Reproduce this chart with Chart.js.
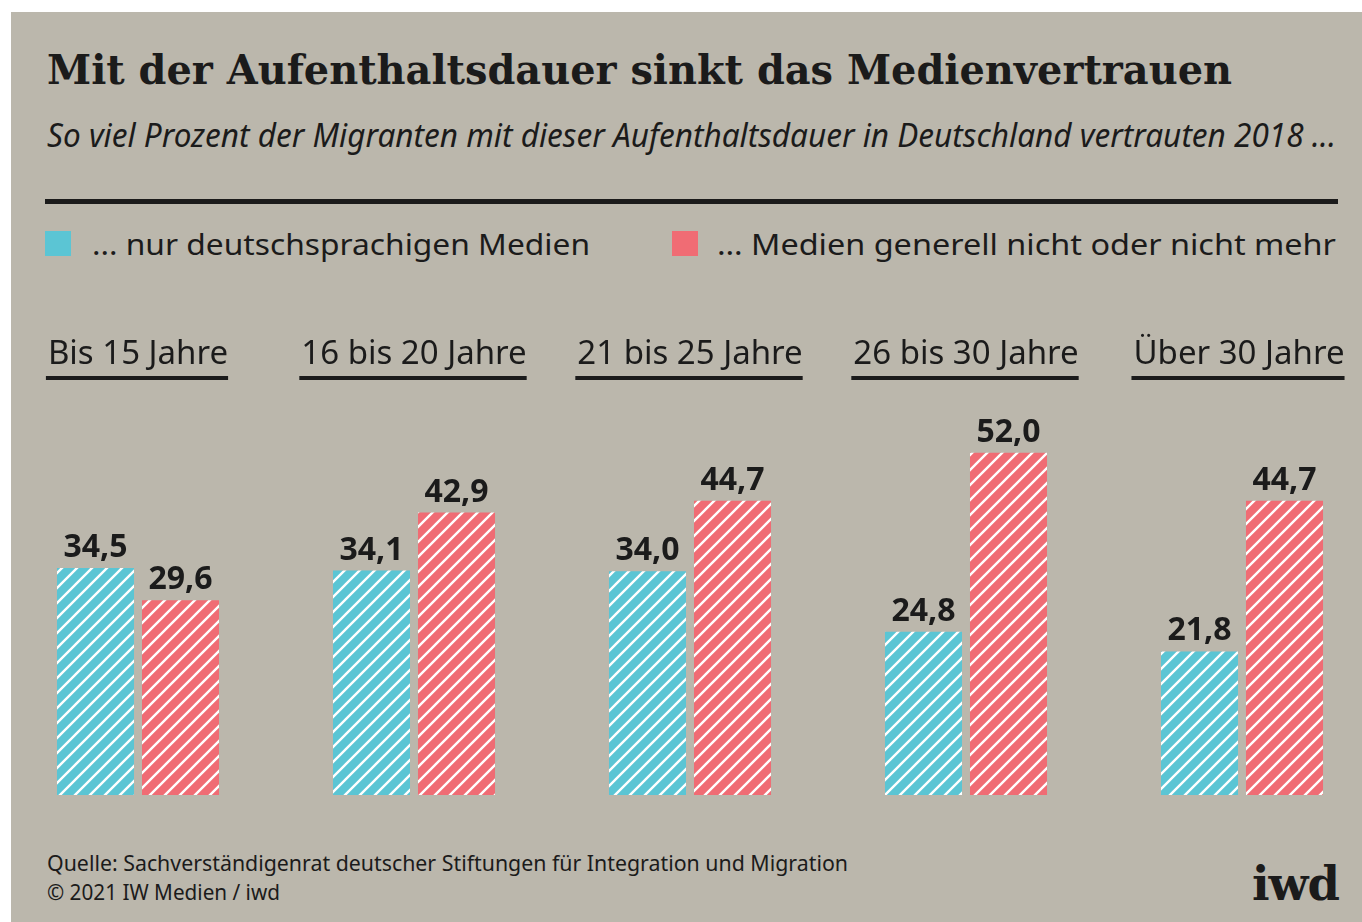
<!DOCTYPE html>
<html lang="de">
<head>
<meta charset="utf-8">
<script src="https://cdn.jsdelivr.net/npm/chart.js@4/dist/chart.umd.min.js"></script>
<style>
  html,body{margin:0;padding:0;background:#fff;width:1362px;height:922px;overflow:hidden;position:relative;}
  #card{position:absolute;left:11px;top:12px;width:1351px;height:910px;background:#bbb7ac;}
  .t{position:absolute;white-space:nowrap;color:#1b1b1b;line-height:1;transform-origin:0 0;display:inline-block;}
  #title{font-family:"DejaVu Serif",serif;font-weight:700;font-size:41px;left:47px;top:50px;}
  #subtitle{font-family:"Noto Sans",sans-serif;font-style:italic;font-size:32px;left:47px;top:119px;}
  #rule{position:absolute;left:45px;top:199px;width:1293px;height:5px;background:#1b1b1b;}
  .sq{position:absolute;top:231px;width:26px;height:25px;}
  .leg{font-family:"Noto Sans",sans-serif;font-size:29px;top:229px;}
  .foot{font-family:"Noto Sans",sans-serif;font-size:21px;left:47px;}
  #logo{font-family:"DejaVu Serif",serif;font-weight:700;font-size:46px;left:1252px;top:861px;letter-spacing:-1px;}
  #chart{position:absolute;left:0;top:300px;}
</style>
</head>
<body>
<div id="card"></div>
<div class="t" id="title" data-w="1185">Mit der Aufenthaltsdauer sinkt das Medienvertrauen</div>
<div class="t" id="subtitle" data-w="1289">So viel Prozent der Migranten mit dieser Aufenthaltsdauer in Deutschland vertrauten 2018 ...</div>
<div id="rule"></div>
<div class="sq" id="sq1" style="left:45px;"></div>
<div class="t leg" id="leg1" style="left:92px;" data-w="498"></div>
<div class="sq" id="sq2" style="left:672px;"></div>
<div class="t leg" id="leg2" style="left:717px;" data-w="619"></div>
<canvas id="chart" width="1380" height="520"></canvas>
<div class="t foot" style="top:853px;" data-w="801">Quelle: Sachverständigenrat deutscher Stiftungen für Integration und Migration</div>
<div class="t foot" style="top:882px;" data-w="233">© 2021 IW Medien / iwd</div>
<div class="t" id="logo" data-w="87">iwd</div>
<script>
// ---- data ----
const categories = ["Bis 15 Jahre", "16 bis 20 Jahre", "21 bis 25 Jahre", "26 bis 30 Jahre", "Über 30 Jahre"];
const seriesNames = ["... nur deutschsprachigen Medien", "… Medien generell nicht oder nicht mehr"];
const onlyGerman = [34.5, 34.1, 34.0, 24.8, 21.8];
const noTrust = [29.6, 42.9, 44.7, 52.0, 44.7];
const seriesColors = ["#5bc5d4", "#f06c74"];

document.getElementById('leg1').textContent = seriesNames[0];
document.getElementById('leg2').textContent = seriesNames[1];
document.getElementById('sq1').style.background = seriesColors[0];
document.getElementById('sq2').style.background = seriesColors[1];

function hatch(color){
  const s = 15;
  const c = document.createElement('canvas');
  c.width = s; c.height = s;
  const x = c.getContext('2d');
  x.fillStyle = color; x.fillRect(0,0,s,s);
  x.strokeStyle = '#ffffff'; x.lineWidth = 2.4;
  x.beginPath();
  x.moveTo(0,s); x.lineTo(s,0);
  x.moveTo(-s/2,s/2); x.lineTo(s/2,-s/2);
  x.moveTo(s/2,s*1.5); x.lineTo(s*1.5,s/2);
  x.stroke();
  return x.createPattern(c,'repeat');
}

const fmt = v => v.toFixed(1).replace('.', ',');

const labelPlugin = {
  id: 'labels',
  afterDatasetsDraw(chart){
    const ctx = chart.ctx;
    const xs = chart.scales.x;
    ctx.save();
    // category headers with underline
    ctx.font = '33px "Noto Sans"';
    ctx.fillStyle = '#1b1b1b';
    ctx.textAlign = 'center';
    ctx.textBaseline = 'alphabetic';
    categories.forEach((c,i)=>{
      const cx = xs.getPixelForValue(i) - (i === categories.length - 1 ? 3 : 0);
      ctx.fillText(c, cx, 64);
      const w = ctx.measureText(c).width;
      ctx.fillRect(cx - w/2 - 2, 76, w + 2, 4);
    });
    // value labels
    ctx.font = 'bold 32px "Noto Sans"';
    chart.data.datasets.forEach((ds,di)=>{
      chart.getDatasetMeta(di).data.forEach((bar,i)=>{
        ctx.fillText(fmt(ds.data[i]), bar.x, bar.y - 11);
      });
    });
    ctx.restore();
  }
};

function build(){
  document.querySelectorAll('[data-w]').forEach(el=>{
    const w = el.getBoundingClientRect().width;
    const target = parseFloat(el.dataset.w);
    el.style.transform = 'scaleX(' + (target / w) + ')';
  });
  new Chart(document.getElementById('chart'), {
    type: 'bar',
    data: {
      labels: categories,
      datasets: [
        {label: seriesNames[0], data: onlyGerman, backgroundColor: hatch(seriesColors[0]), borderWidth: 0},
        {label: seriesNames[1], data: noTrust, backgroundColor: hatch(seriesColors[1]), borderWidth: 0}
      ]
    },
    options: {
      responsive: false,
      animation: false,
      devicePixelRatio: 1,
      layout: {padding: {top: 100, bottom: 25, left: 0, right: 0}},
      categoryPercentage: 0.616,
      barPercentage: 0.906,
      scales: {
        x: {display: false},
        y: {display: false, min: 0, max: 60}
      },
      plugins: {legend: {display: false}, tooltip: {enabled: false}}
    },
    plugins: [labelPlugin]
  });
}
if (document.fonts && document.fonts.ready) {
  document.fonts.load('33px "Noto Sans"').then(()=>document.fonts.load('bold 32px "Noto Sans"')).then(()=>document.fonts.ready).then(build, build);
} else build();
</script>
</body>
</html>
